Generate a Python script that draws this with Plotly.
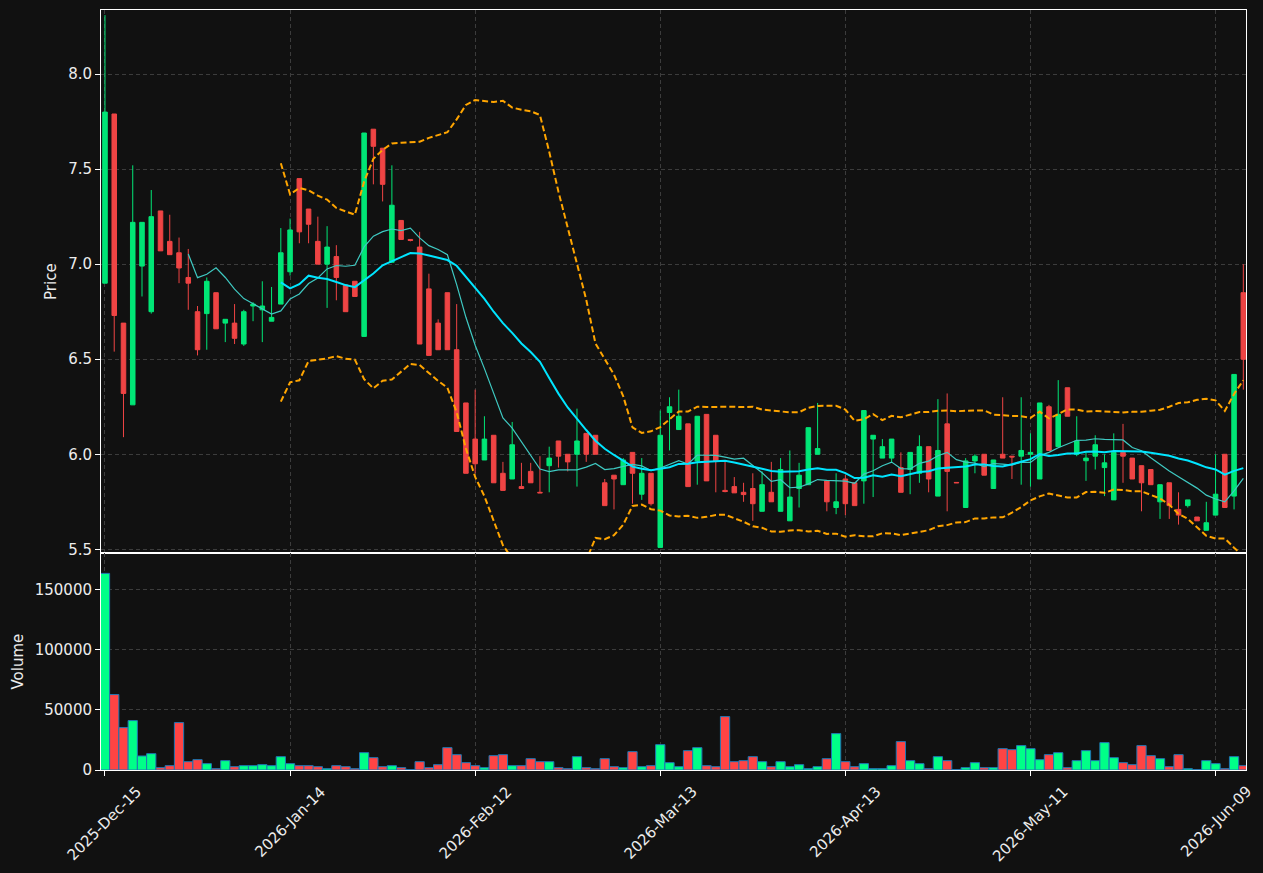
import pandas as pd
import plotly.graph_objects as go

# ---------------- data ----------------
opens = [6.90, 7.79, 6.69, 6.26, 6.99, 6.75, 7.28, 7.12, 7.06, 6.93,
         6.75, 6.74, 6.85, 6.69, 6.69, 6.58, 6.78, 6.76, 6.70, 6.79,
         6.96, 7.45, 7.29, 7.12, 7.00, 7.04, 6.89, 6.91, 6.62, 7.71,
         7.61, 7.01, 7.23, 7.13, 7.09, 6.87, 6.69, 6.85, 6.55, 6.27,
         6.08, 5.97, 6.10, 5.90, 5.87, 5.83, 5.91, 5.80, 5.94, 6.07,
         6.00, 6.00, 6.11, 6.10, 5.85, 5.89, 5.84, 6.01, 5.79, 5.90,
         5.51, 6.22, 6.13, 6.16, 5.965, 6.21, 6.10, 5.81, 5.83, 5.80,
         5.82, 5.70, 5.80, 5.70, 5.65, 5.82, 5.84, 6.00, 5.86, 5.72,
         5.87, 5.85, 5.86, 6.08, 5.98, 5.98, 5.93, 5.92, 5.90, 6.04,
         5.78, 6.16, 5.852, 5.72, 5.965, 6.00, 5.82, 6.00, 5.99, 5.99,
         6.00, 5.87, 6.25, 6.04, 6.35, 6.00, 5.966, 5.99, 5.93, 5.76,
         6.01, 5.98, 5.94, 5.92, 5.75, 5.85, 5.71, 5.73, 5.67, 5.60,
         5.68, 6.00, 5.78, 6.85]
highs = [8.31, 7.79, 6.69, 7.52, 7.22, 7.39, 7.28, 7.26, 7.14, 7.08,
         6.78, 6.93, 6.85, 6.71, 6.79, 6.76, 6.80, 6.91, 6.88, 7.19,
         7.24, 7.45, 7.29, 7.25, 7.20, 7.10, 6.89, 6.91, 7.69, 7.71,
         7.61, 7.52, 7.23, 7.13, 7.17, 6.95, 6.71, 6.85, 6.79, 6.27,
         6.34, 6.20, 6.10, 5.96, 6.17, 5.955, 5.955, 5.99, 6.04, 6.07,
         6.00, 6.24, 6.11, 6.10, 5.87, 5.89, 5.98, 6.01, 5.98, 5.90,
         6.23, 6.30, 6.34, 6.16, 6.20, 6.21, 6.10, 5.965, 5.88, 5.85,
         5.90, 5.91, 5.96, 5.98, 6.02, 5.955, 6.14, 6.27, 5.86, 5.90,
         5.89, 5.85, 6.23, 6.10, 6.08, 6.08, 6.01, 6.01, 6.10, 6.04,
         6.29, 6.32, 5.852, 5.98, 6.00, 6.00, 5.97, 6.30, 5.99, 6.30,
         6.11, 6.27, 6.26, 6.39, 6.35, 6.20, 6.01, 6.10, 6.00, 6.11,
         6.16, 5.98, 5.94, 5.92, 5.84, 5.85, 5.80, 5.76, 5.67, 5.75,
         6.00, 6.00, 6.42, 7.00]
lows = [6.90, 6.54, 6.09, 6.26, 6.83, 6.74, 7.07, 7.05, 6.90, 6.76,
        6.52, 6.55, 6.66, 6.59, 6.58, 6.57, 6.70, 6.59, 6.70, 6.79,
        6.94, 7.11, 7.11, 7.00, 6.77, 6.81, 6.75, 6.83, 6.62, 7.42,
        7.33, 7.01, 7.13, 7.12, 6.58, 6.52, 6.55, 6.55, 6.12, 5.90,
        5.90, 5.97, 5.85, 5.81, 5.87, 5.82, 5.85, 5.797, 5.80, 5.93,
        5.91, 5.83, 5.96, 6.00, 5.73, 5.71, 5.84, 5.74, 5.76, 5.73,
        5.51, 6.02, 6.13, 5.83, 5.84, 5.86, 5.80, 5.80, 5.797, 5.75,
        5.65, 5.70, 5.75, 5.70, 5.65, 5.72, 5.84, 6.00, 5.70, 5.685,
        5.68, 5.73, 5.74, 5.775, 5.98, 5.955, 5.80, 5.79, 5.85, 5.80,
        5.78, 5.70, 5.850, 5.72, 5.90, 5.89, 5.82, 5.98, 5.87, 5.84,
        5.83, 5.87, 6.02, 6.04, 6.20, 5.99, 5.86, 5.92, 5.78, 5.76,
        5.85, 5.87, 5.70, 5.84, 5.66, 5.66, 5.63, 5.72, 5.65, 5.60,
        5.68, 5.72, 5.71, 6.34]
closes = [7.80, 6.73, 6.32, 7.22, 7.22, 7.25, 7.07, 7.05, 6.98, 6.90,
          6.55, 6.91, 6.66, 6.71, 6.61, 6.75, 6.79, 6.78, 6.72, 7.06,
          7.18, 7.17, 7.21, 7.00, 7.09, 6.93, 6.75, 6.83, 7.69, 7.62,
          7.42, 7.31, 7.13, 7.125, 6.58, 6.52, 6.55, 6.55, 6.12, 5.90,
          5.95, 6.08, 5.85, 5.81, 6.05, 5.82, 5.85, 5.797, 5.98, 5.99,
          5.96, 6.07, 6.00, 6.00, 5.73, 5.87, 5.97, 5.90, 5.90, 5.74,
          6.10, 6.25, 6.20, 5.83, 6.20, 5.86, 5.965, 5.804, 5.797, 5.788,
          5.74, 5.84, 5.75, 5.92, 5.775, 5.89, 6.14, 6.03, 5.75, 5.75,
          5.74, 5.73, 6.23, 6.10, 6.04, 6.08, 5.80, 6.01, 6.04, 5.87,
          6.02, 5.91, 5.850, 5.965, 5.99, 5.89, 5.97, 5.98, 5.986, 6.02,
          6.01, 6.27, 6.02, 6.21, 6.20, 6.07, 5.98, 6.05, 5.955, 6.01,
          5.99, 5.87, 5.85, 5.84, 5.84, 5.73, 5.68, 5.76, 5.65, 5.64,
          5.79, 5.72, 6.42, 6.50]
volumes = [163600, 62780, 35280, 41110, 11670, 13610, 1950, 3610, 39450, 6940,
           8610, 5280, 1110, 7780, 2780, 3610, 3610, 4440, 3610, 11110,
           5280, 3610, 3610, 2780, 1110, 3610, 2780, 1110, 14440, 10280,
           2780, 3610, 1950, 300, 6940, 1950, 4440, 18610, 12780, 6110,
           3610, 1950, 11940, 12780, 3610, 3610, 9440, 6940, 6940, 1950,
           1110, 11110, 1950, 1110, 9440, 2780, 1950, 15280, 2780, 3610,
           21110, 6110, 2780, 16110, 18610, 3610, 2780, 44440, 6940, 7780,
           11110, 6940, 2780, 6940, 2780, 4440, 1110, 2780, 9440, 30280,
           6940, 2780, 5280, 1110, 1110, 3610, 23610, 7780, 5280, 1110,
           11110, 7780, 300, 1950, 6110, 1950, 1950, 17780, 16940, 20280,
           17780, 8610, 12780, 14440, 1950, 7780, 16110, 7780, 22780, 10280,
           6110, 4440, 20280, 11940, 9440, 2780, 12780, 1110, 300, 7780,
           5280, 1110, 11110, 3610]
tick_labels = ["2025-Dec-15", "2026-Jan-14", "2026-Feb-12", "2026-Mar-13",
               "2026-Apr-13", "2026-May-11", "2026-Jun-09"]
price_ticks = [5.5, 6.0, 6.5, 7.0, 7.5, 8.0]
volume_ticks = [0, 50000, 100000, 150000]

# ---------------- derived ----------------
n = len(closes)
idx = list(range(n))
tick_idx = list(range(0, n, 20))[:len(tick_labels)]
s = pd.Series(closes)
sma10 = s.rolling(10).mean()
sma20 = s.rolling(20).mean()
std20 = s.rolling(20).std(ddof=0)
bb_up = sma20 + 2 * std20
bb_lo = sma20 - 2 * std20

UP, DN = "#00e676", "#ef4444"
VUP, VDN = "#00ff88", "#ff4444"
vol_colors = [VUP if c >= o else VDN for o, c in zip(opens, closes)]

BG = "#111111"
TXT = "#ececec"
GRID = "#3c3c3c"
FONT = "DejaVu Sans"
FS = 15

fig = go.Figure()
fig.add_trace(go.Candlestick(
    x=idx, open=opens, high=highs, low=lows, close=closes,
    increasing=dict(line=dict(color=UP, width=1), fillcolor=UP),
    decreasing=dict(line=dict(color=DN, width=1), fillcolor=DN),
    whiskerwidth=0, xaxis="x", yaxis="y", showlegend=False, name="OHLC"))
fig.add_trace(go.Scatter(x=idx, y=bb_up, mode="lines", xaxis="x", yaxis="y",
                         line=dict(color="#ffa500", width=2, dash="6px,3px"), showlegend=False))
fig.add_trace(go.Scatter(x=idx, y=bb_lo, mode="lines", xaxis="x", yaxis="y",
                         line=dict(color="#ffa500", width=2, dash="6px,3px"), showlegend=False))
fig.add_trace(go.Scatter(x=idx, y=sma10, mode="lines", xaxis="x", yaxis="y",
                         line=dict(color="#3fc9c2", width=1.2), showlegend=False))
fig.add_trace(go.Scatter(x=idx, y=sma20, mode="lines", xaxis="x", yaxis="y",
                         line=dict(color="#00e5ff", width=2), showlegend=False))
fig.add_trace(go.Bar(x=idx, y=volumes, xaxis="x2", yaxis="y2", width=1,
                     marker=dict(color=vol_colors, line=dict(color="#1f77b4", width=1)),
                     showlegend=False))

xr = [-0.43, n - 0.71]
axis_common = dict(showline=True, linecolor="white", linewidth=1, mirror=True,
                   showgrid=True, gridcolor=GRID, griddash="4px,3px", gridwidth=1,
                   zeroline=False, tickfont=dict(color=TXT, size=FS, family=FONT))

fig.update_layout(
    width=1263, height=873,
    margin=dict(l=101, r=17, t=10, b=103),
    paper_bgcolor=BG, plot_bgcolor=BG,
    font=dict(family=FONT, color=TXT, size=FS),
    showlegend=False, hovermode=False,
    xaxis=dict(domain=[0, 1], range=xr, anchor="y", tickvals=tick_idx,
               showticklabels=False, ticks="", rangeslider=dict(visible=False),
               **axis_common),
    yaxis=dict(domain=[0.2851, 1], range=[5.479, 8.337], anchor="x",
               tickvals=price_ticks, ticktext=[f"{v:.1f}" for v in price_ticks],
               ticks="outside", ticklen=5, tickcolor="white",
               title=dict(text="Price", font=dict(size=FS, color=TXT, family=FONT), standoff=7),
               **axis_common),
    xaxis2=dict(domain=[0, 1], range=xr, anchor="y2", matches="x", tickvals=tick_idx,
                showticklabels=False, ticks="outside", ticklen=5, tickcolor="white",
                **axis_common),
    yaxis2=dict(domain=[0, 0.2851], range=[0, 180300], anchor="x2",
                tickvals=volume_ticks, ticktext=[str(v) for v in volume_ticks],
                ticks="outside", ticklen=5, tickcolor="white",
                title=dict(text="Volume", font=dict(size=FS, color=TXT, family=FONT), standoff=7),
                **axis_common),
)

for xi, lab in zip(tick_idx, tick_labels):
    fig.add_annotation(x=xi, xref="x2", y=0, yref="paper", text=lab, showarrow=False,
                       textangle=-45, xanchor="center", yanchor="top", yshift=-10,
                       font=dict(size=FS, color=TXT, family=FONT))

fig.write_html("out.html")
